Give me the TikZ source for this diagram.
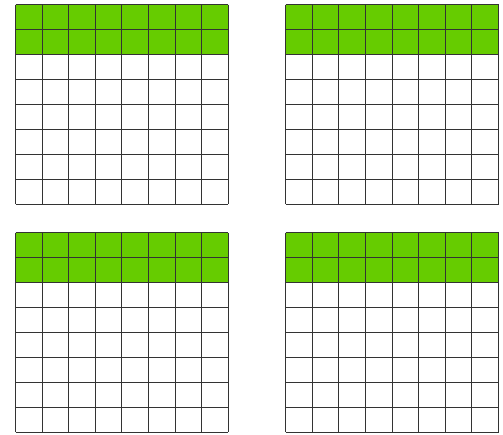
\documentclass[tikz,border=0pt]{standalone}
\definecolor{cellgreen}{HTML}{66CC00}
\definecolor{gridline}{HTML}{333333}
\tikzset{
  greenrows/.style={fill=cellgreen},
  gridlines/.style={draw=gridline, line width=0.9pt},
}
\begin{document}
\begin{tikzpicture}[x=1pt,y=-1pt]
\useasboundingbox (0,0) rectangle (503,434);
\foreach \ox/\oy in {15.5/4.7, 285.7/4.7, 15.5/232.7, 285.7/232.7}{
  \fill[greenrows] (\ox,\oy) rectangle ({\ox+8*26.6},{\oy+2*24.95});
  \foreach \i in {0,...,8}{
    \draw[gridlines] ({\ox+\i*26.6},\oy) -- ({\ox+\i*26.6},{\oy+8*24.95});
    \draw[gridlines] (\ox,{\oy+\i*24.95}) -- ({\ox+8*26.6},{\oy+\i*24.95});
  }
}
\end{tikzpicture}
\end{document}
